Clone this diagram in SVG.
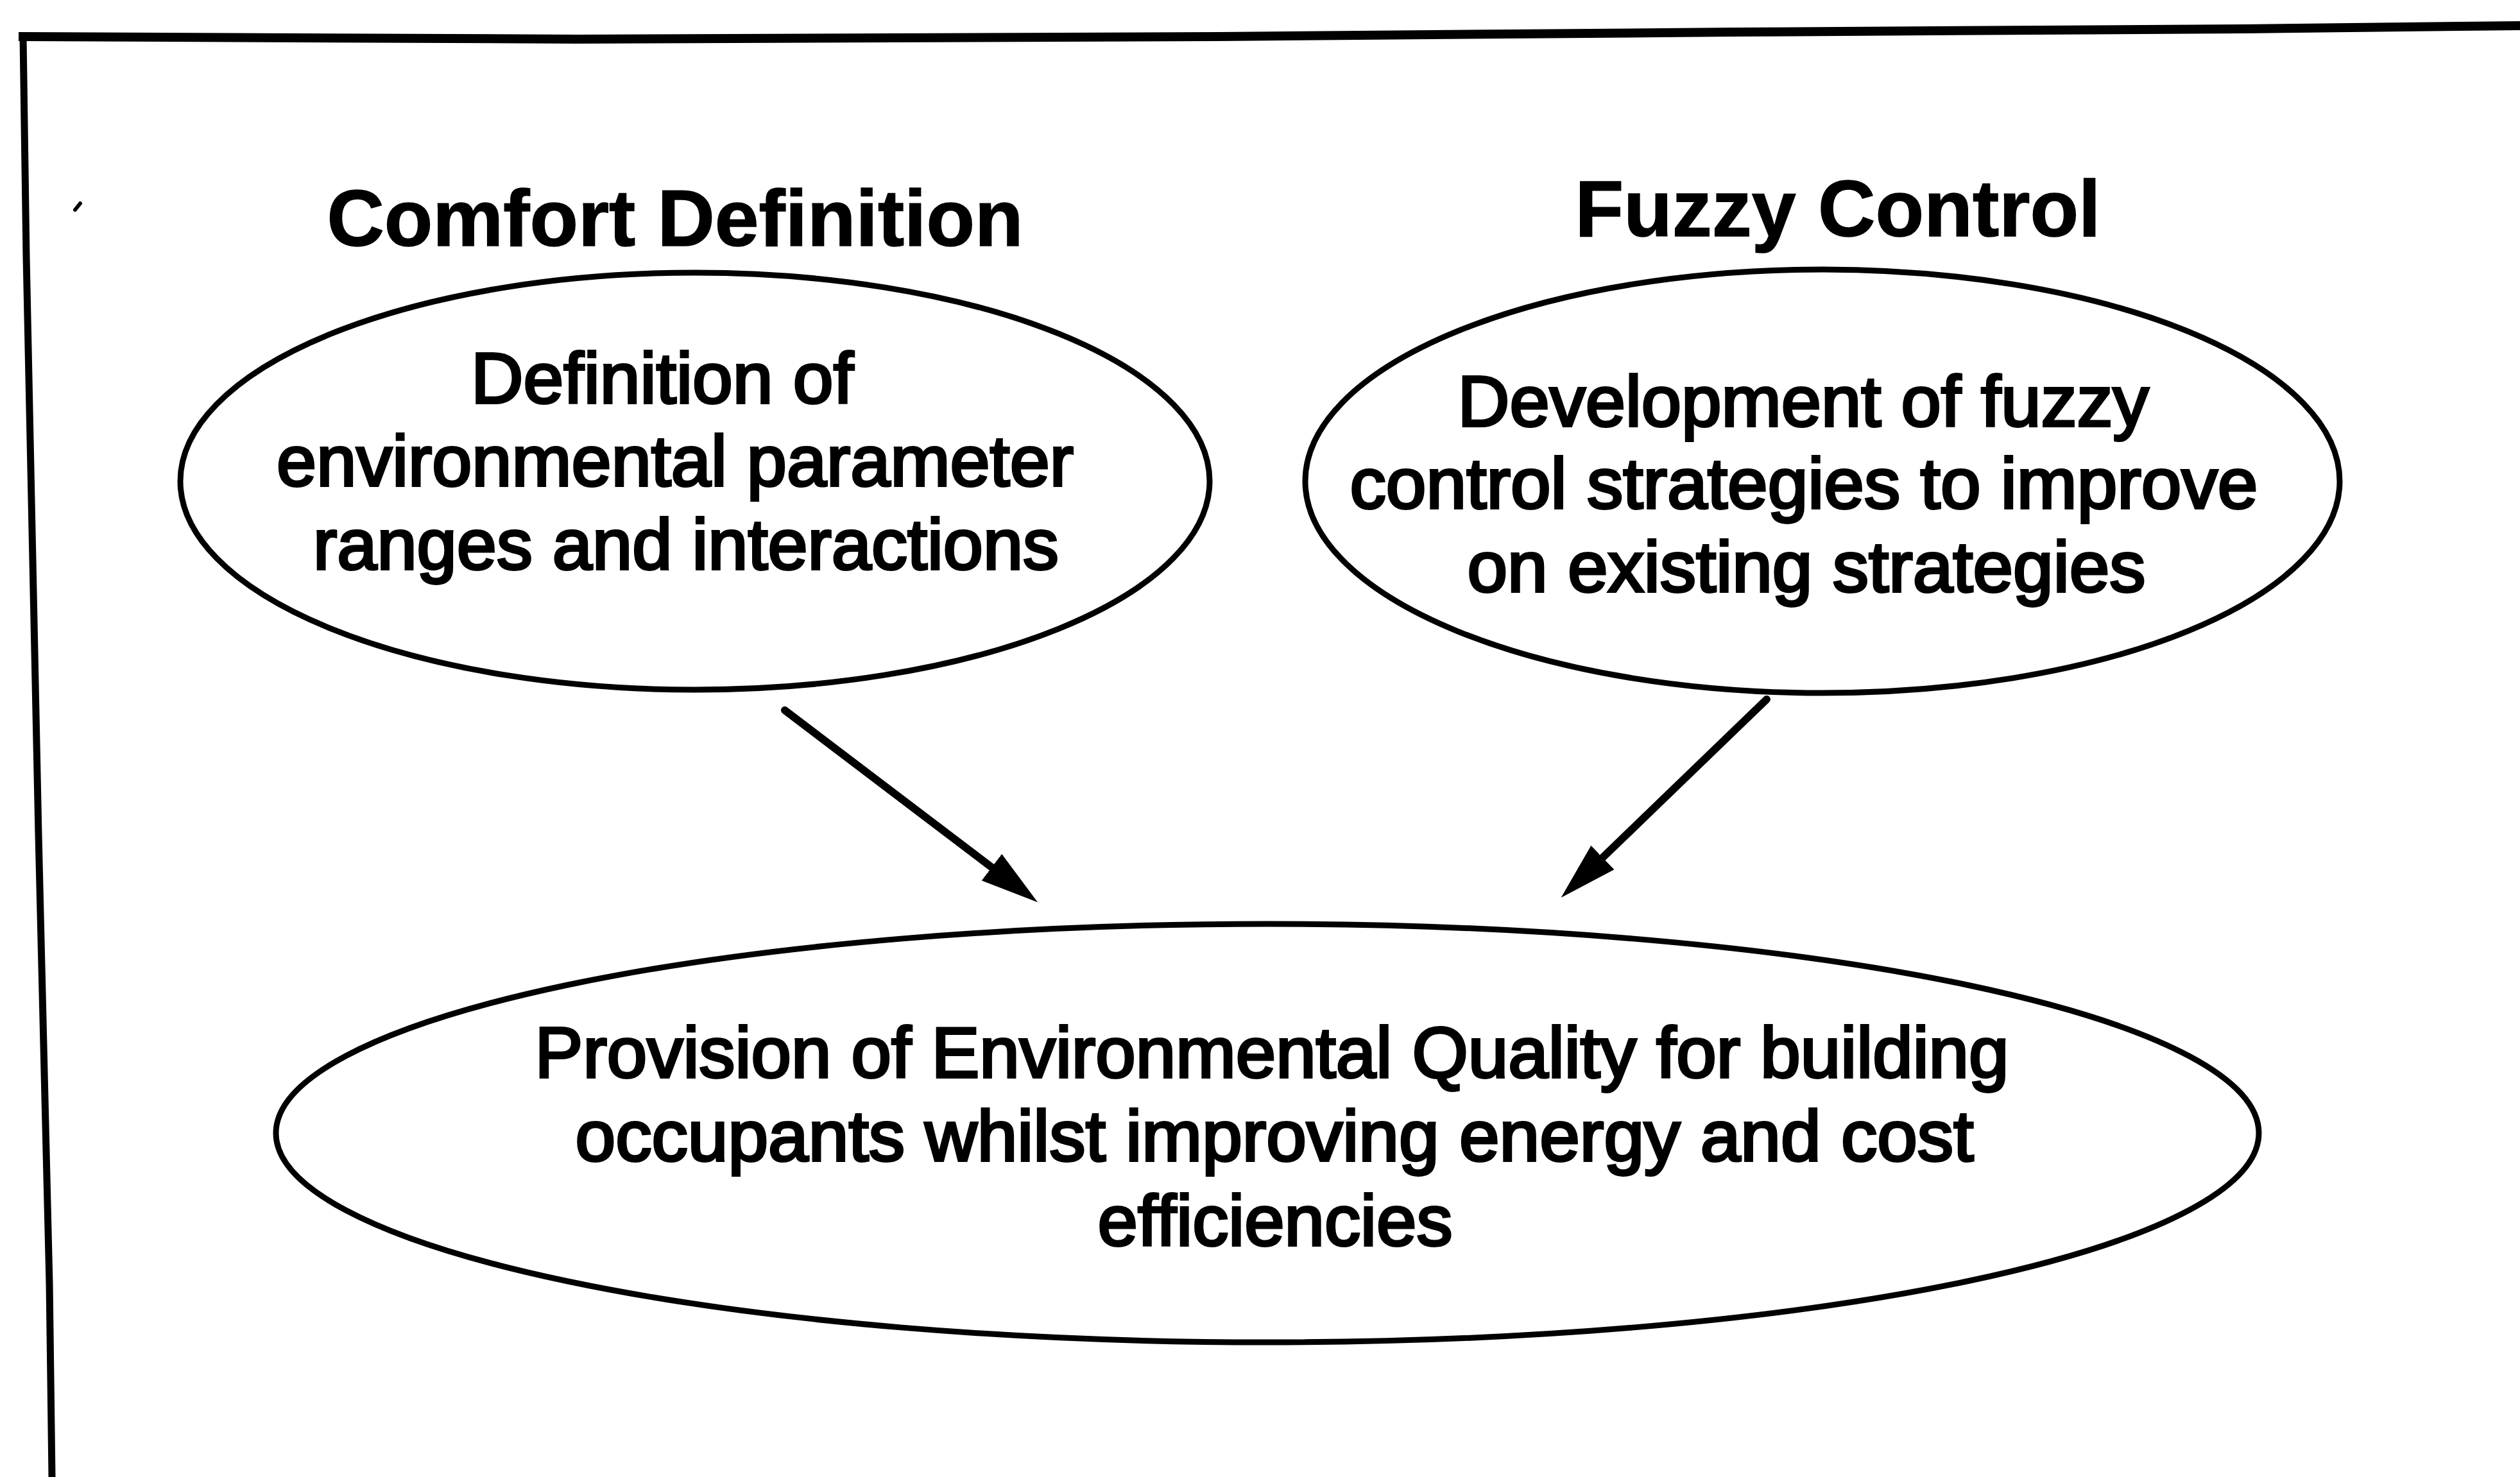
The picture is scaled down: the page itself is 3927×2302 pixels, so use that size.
<svg xmlns="http://www.w3.org/2000/svg" width="3927" height="2302" viewBox="0 0 3927 2302">
  <style>
    .frame { fill: none; stroke: #000; stroke-linecap: square; stroke-linejoin: miter; }
    .oval { fill: #fff; stroke: #000; stroke-width: 9; }
    .title { font-family: "Liberation Sans", Arial, sans-serif; font-weight: bold; font-size: 124px; fill: #000; stroke: #000; stroke-width: 1.5; text-anchor: middle; }
    .body { font-family: "Liberation Sans", Arial, sans-serif; font-size: 112px; fill: #000; stroke: #000; stroke-width: 4; text-anchor: middle; }
    .link { stroke: #000; stroke-width: 12; stroke-linecap: round; fill: none; }
  </style>
  <defs>
    <marker id="head" markerUnits="userSpaceOnUse" viewBox="0 0 90 52" markerWidth="90" markerHeight="52" refX="2" refY="26" orient="auto">
      <path d="M0,0 L90,26 L0,52 Z" fill="#000"/>
    </marker>
  </defs>

  <rect x="0" y="0" width="3927" height="2302" fill="#fff"/>

  <!-- outer frame: top and left edges only -->
  <g id="frame">
    <path class="frame" stroke-width="14" d="M36,57 L900,61 L1900,57 L2700,50 L3500,45 L3927,40"/>
    <path class="frame" stroke-width="11" d="M36,57 L41,400 L60,1300 L77,2000 L81,2302"/>
    <path d="M117,327 L125,317" stroke="#000" stroke-width="6" stroke-linecap="round"/>
  </g>

  <g id="title-comfort">
    <text class="title" x="1052" y="383" textLength="1085" lengthAdjust="spacingAndGlyphs">Comfort Definition</text>
  </g>
  <g id="title-fuzzy">
    <text class="title" x="2864" y="368" textLength="819" lengthAdjust="spacingAndGlyphs">Fuzzy Control</text>
  </g>

  <g id="node-comfort">
    <ellipse class="oval" cx="1083" cy="750" rx="802" ry="325"/>
    <text class="body" x="1032" y="628" textLength="596" lengthAdjust="spacingAndGlyphs">Definition of</text>
    <text class="body" x="1052" y="757" textLength="1242" lengthAdjust="spacingAndGlyphs">environmental parameter</text>
    <text class="body" x="1069" y="887" textLength="1162" lengthAdjust="spacingAndGlyphs">ranges and interactions</text>
  </g>

  <g id="node-fuzzy">
    <ellipse class="oval" cx="2840" cy="750" rx="806" ry="330"/>
    <text class="body" x="2810" y="664" textLength="1077" lengthAdjust="spacingAndGlyphs">Development of fuzzy</text>
    <text class="body" x="2811" y="792" textLength="1415" lengthAdjust="spacingAndGlyphs">control strategies to improve</text>
    <text class="body" x="2815" y="922" textLength="1057" lengthAdjust="spacingAndGlyphs">on existing strategies</text>
  </g>

  <g id="node-quality">
    <ellipse class="oval" cx="1975" cy="1766" rx="1545" ry="326"/>
    <text class="body" x="1982" y="1679" textLength="2297" lengthAdjust="spacingAndGlyphs">Provision of Environmental Quality for building</text>
    <text class="body" x="1986" y="1809" textLength="2179" lengthAdjust="spacingAndGlyphs">occupants whilst improving energy and cost</text>
    <text class="body" x="1987" y="1941" textLength="553" lengthAdjust="spacingAndGlyphs">efficiencies</text>
  </g>

  <g id="connectors">
    <line class="link" x1="1223" y1="1107" x2="1547" y2="1353" marker-end="url(#head)"/>
    <line class="link" x1="2753" y1="1090" x2="2496" y2="1338" marker-end="url(#head)"/>
  </g>
</svg>
